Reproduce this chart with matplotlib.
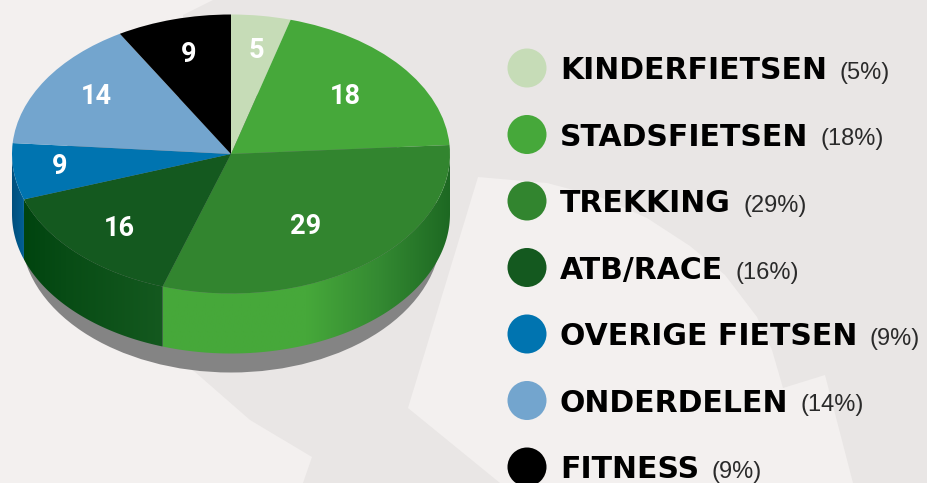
import numpy as np
import matplotlib
matplotlib.use('Agg')
import matplotlib.pyplot as plt
from matplotlib.colors import LinearSegmentedColormap
from matplotlib.patches import Circle, Ellipse, Polygon

names = ['KINDERFIETSEN', 'STADSFIETSEN', 'TREKKING', 'ATB/RACE',
         'OVERIGE FIETSEN', 'ONDERDELEN', 'FITNESS']
shares = [5, 18, 29, 16, 9, 14, 9]
# the slices in the picture are not proportional to the printed shares,
# so these are the angles (degrees, clockwise from top)
slice_angles = [15.8, 70.5, 111.9, 52.8, 23.5, 55.0, 30.5]
colors = ['#C6DCB7', '#46A83A', '#32852F', '#14591F', '#0074B0', '#73A5CE', '#000000']

W, H = 928, 483
CX, CY, RX, RY = 231, 154, 219, 139.5
DEPTH = 60 / RY

# wall shading per slice, left to right
wall_ramps = {
    2: [(0, '#46A83A'), (0.5, '#46A83A'), (0.75, '#348A32'), (1, '#1D6822')],
    3: [(0, '#00440F'), (0.3, '#084C15'), (1, '#14591F')],
    4: [(0, '#004F7D'), (1, '#005F94')],
}
label_xy = [(256, 50), (345, 97), (306, 227), (119, 228), (60, 166), (96, 97), (189, 54)]

fig = plt.figure(figsize=(W / 100, H / 100), dpi=100, facecolor='#E9E6E5')

# background and legend, in pixels
bg = fig.add_axes([0, 0, 1, 1])
bg.set_xlim(0, W)
bg.set_ylim(H, 0)
bg.axis('off')

light = '#F3F0EF'
bg.add_patch(Polygon([(0, 0), (213, 0), (183, 15), (183, 365), (195, 372), (250, 420), (312, 457),
                      (303, 483), (0, 483)], fc=light, ec='none'))
bg.add_patch(Polygon([(478, 177), (547, 183), (600, 197), (647, 218), (690, 246), (725, 275),
                      (757, 317), (772, 350), (783, 388), (825, 375), (853, 483), (500, 483),
                      (408, 408)], fc=light, ec='none'))
bg.add_patch(Ellipse((CX, 233), 420, 2 * RY, fc='#848484', ec='none'))

for i, name in enumerate(names):
    yc = 68 + 66.5 * i
    base = yc + 11
    bg.add_patch(Circle((527, yc), 19.5, fc=colors[i], ec='none'))
    t = bg.text(560, base, name, family='DejaVu Sans', weight='bold', fontsize=21.5,
                color='black', va='baseline', ha='left')
    bg.annotate('({}%)'.format(shares[i]), xy=(1, base), xycoords=(t, 'data'), xytext=(12.5, 0),
                textcoords='offset pixels', family='Liberation Sans', fontsize=17,
                color='#2A2A2A', va='baseline', ha='left')

# pie, one data unit is one radius
ax = fig.add_axes([0, 0, 1, 1])
ax.pie(slice_angles, colors=colors, startangle=90, counterclock=False, radius=1,
       wedgeprops={'linewidth': 0})
xlim = (-CX / RX, (W - CX) / RX)
ylim = (-(H - CY) / RY, CY / RY)

edges = np.cumsum([0] + slice_angles)
for i, ramp in wall_ramps.items():
    a0, a1 = max(edges[i], 90), min(edges[i + 1], 270)
    th = np.radians(np.linspace(a0, a1, 120))
    x, y = np.sin(th), np.cos(th)
    wall = Polygon(np.vstack([np.c_[x, y], np.c_[x[::-1], y[::-1] - DEPTH]]),
                   transform=ax.transData)
    cmap = LinearSegmentedColormap.from_list('wall', ramp)
    im = ax.imshow(np.linspace(0, 1, 256)[None, :], cmap=cmap, aspect='auto', zorder=0.5,
                   extent=(x.min(), x.max(), -1 - DEPTH, 1))
    im.set_clip_path(wall)

ax.set_aspect('auto')
ax.set_xlim(xlim)
ax.set_ylim(ylim)
ax.axis('off')

for v, (lx, ly) in zip(shares, label_xy):
    ax.text(lx, ly, str(v), transform=bg.transData, family='Roboto', weight='bold',
            fontsize=19.5, color='white', ha='center', va='center')

fig.savefig('out.png', dpi=100, facecolor=fig.get_facecolor())
